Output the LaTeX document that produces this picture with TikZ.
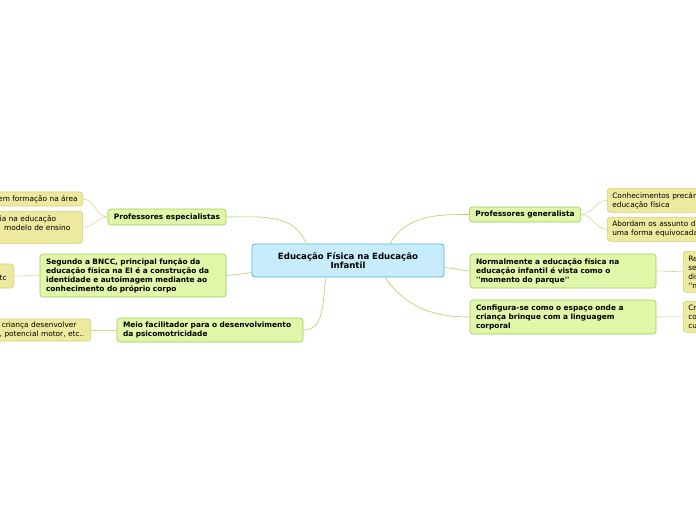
\documentclass[tikz,border=0pt]{standalone}
\usepackage{fontspec}
\setmainfont{DejaVu Sans}
\usepackage{tikz}
\usetikzlibrary{positioning}
\definecolor{rootfill}{RGB}{199,236,252}
\definecolor{rootline}{RGB}{90,180,230}
\definecolor{topicfill}{RGB}{224,246,168}
\definecolor{topicline}{RGB}{156,204,84}
\definecolor{leaffill}{RGB}{237,233,158}
\definecolor{leafline}{RGB}{214,208,112}
\definecolor{mainedge}{RGB}{172,212,96}
\definecolor{subedge}{RGB}{216,216,150}
\newcommand{\qq}{\textquotesingle\textquotesingle}

\begin{document}
\begin{tikzpicture}[x=1pt, y=-1pt,
    central/.style={draw=rootline, fill=rootfill, rounded corners=3pt, line width=0.8pt, align=center, font=\bfseries\fontsize{8.6}{9.5}\selectfont, text width=180pt, minimum height=33pt, inner xsep=6pt},
    topic/.style={draw=topicline, fill=topicfill, rounded corners=3pt, line width=0.6pt, align=left, font=\bfseries\fontsize{7.4}{9}\selectfont, inner xsep=6pt, inner ysep=2pt},
    leaf/.style={draw=leafline, fill=leaffill, rounded corners=3pt, line width=0.6pt, align=left, font=\fontsize{7.4}{9}\selectfont, inner xsep=5pt, inner ysep=2pt},
    branch/.style={draw=mainedge, line width=0.6pt},
    twig/.style={draw=subedge, line width=0.6pt}
]
\useasboundingbox (0,0) rectangle (696,520);
\fill[white] (0,0) rectangle (696,520);
\clip (0,0) rectangle (696,520);

% Central topic
\node[central] (root) at (348,260.5) {Educação Física na Educação\\Infantil};

% Left branches
\node[topic, minimum width=118pt, minimum height=16pt] (esp) at (167,217) {Professores especialistas};
\node[topic, text width=174pt, minimum height=43pt] (bncc) at (133,275.5) {Segundo a BNCC, principal função da\\educação física na EI é a construção da\\identidade e autoimagem mediante ao\\conhecimento do próprio corpo};
\node[topic, text width=174pt, minimum height=24pt] (meio) at (210,330) {Meio facilitador para o desenvolvimento\\da psicomotricidade};

% Right branches
\node[topic, minimum width=110pt, minimum height=15pt] (gen) at (525,214.5) {Professores generalista};
\node[topic, text width=174pt, minimum height=34pt] (norm) at (563,271) {Normalmente a educação física na\\educação infantil é vista como o\\\qq momento do parque\qq};
\node[topic, text width=174pt, minimum height=34pt] (conf) at (563,317) {Configura-se como o espaço onde a\\criança brinque com a linguagem\\corporal};

% Leaves, left side
\node[leaf, anchor=east, minimum height=14pt] (esp1) at (83,199) {em formação na área};
\node[leaf, anchor=north east, text width=78pt, minimum height=32pt] (esp2) at (83,211) {ia na educação\\\hphantom{o}modelo de ensino\\\mbox{}};
\node[leaf, anchor=east, text width=9pt, minimum height=24pt] (bncc1) at (14,276) {\mbox{}\\tc};
\node[leaf, anchor=east, text width=86pt, minimum height=22pt] (meio1) at (91,330) {\hphantom{i}criança desenvolver\\, potencial motor, etc..};

% Leaves, right side
\node[leaf, anchor=north west, text width=110pt, minimum height=24pt] (gen1) at (607,188) {Conhecimentos precár\\educação física};
\node[leaf, anchor=north west, text width=110pt, minimum height=24pt] (gen2) at (607,217) {Abordam os assunto d\\uma forma equivocada};
\node[leaf, anchor=north west, text width=40pt, minimum height=41pt] (norm1) at (683,251) {Re\\se\\dis\\\qq n};
\node[leaf, anchor=north west, text width=40pt, minimum height=31pt] (conf1) at (683,301) {Cr\\co\\cu};

% Connectors from the centre
\draw[branch] (esp.east) to[out=0, in=110] ([xshift=-42pt]root.north);
\draw[branch] (bncc.east) to[out=5, in=190] ([yshift=-12pt]root.west);
\draw[branch] (meio.east) to[out=0, in=-100] ([xshift=-22pt]root.south);
\draw[branch] (gen.west) to[out=180, in=60] ([xshift=42pt]root.north);
\draw[branch] (norm.west) to[out=175, in=-5] ([yshift=-7pt]root.east);
\draw[branch] (conf.west) to[out=180, in=-55] ([xshift=37pt]root.south);

% Connectors to the leaves
\draw[twig] (esp.west) to[out=180, in=0] (esp1.east);
\draw[twig] (esp.west) to[out=180, in=0] (esp2.east);
\draw[twig] (bncc.west) -- (bncc1.east);
\draw[twig] (meio.west) -- (meio1.east);
\draw[twig] (gen.east) to[out=0, in=180] (gen1.west);
\draw[twig] (gen.east) to[out=0, in=180] (gen2.west);
\draw[twig] (norm.east) -- (norm1.west);
\draw[twig] (conf.east) -- (conf1.west);
\end{tikzpicture}
\end{document}
